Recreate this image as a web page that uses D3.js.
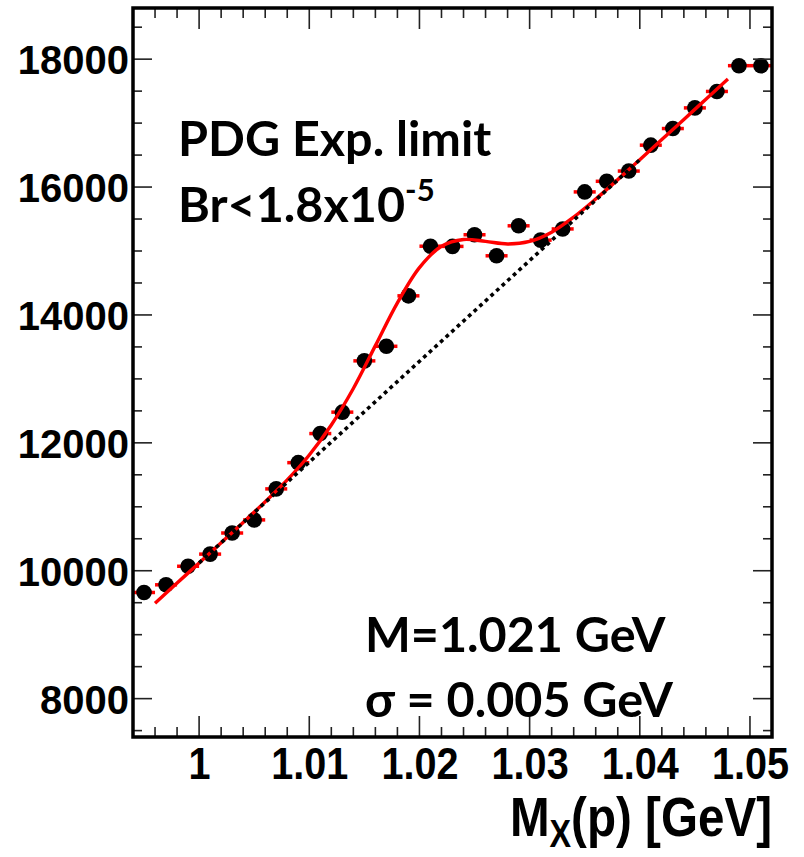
<!DOCTYPE html>
<html>
<head>
<meta charset="utf-8">
<script src="https://cdn.jsdelivr.net/npm/d3@7"></script>
<style>
  html, body { margin: 0; padding: 0; background: #fff; }
  svg { display: block; }
</style>
</head>
<body>
<script>
// ---------------- data ----------------
const binCenters = [0.995, 0.997, 0.999, 1.001, 1.003, 1.005, 1.007, 1.009, 1.011, 1.013,
                    1.015, 1.017, 1.019, 1.021, 1.023, 1.025, 1.027, 1.029, 1.031, 1.033,
                    1.035, 1.037, 1.039, 1.041, 1.043, 1.045, 1.047, 1.049, 1.051];
const binCounts = [9660, 9780, 10070, 10260, 10590, 10795, 11280, 11690, 12145, 12480,
                   13282, 13510, 14299, 15075, 15072, 15254, 14925, 15394, 15170, 15345,
                   15924, 16090, 16250, 16655, 16915, 17238, 17495, 17898, 17898];
const binHalfWidth = 0.001;

// fitted curve (signal + background)
const fitX = [0.996, 0.998, 1.000, 1.002, 1.004, 1.006, 1.008, 1.010, 1.012, 1.014,
              1.016, 1.018, 1.020, 1.022, 1.024, 1.026, 1.028, 1.030, 1.032, 1.034,
              1.036, 1.038, 1.040, 1.042, 1.044, 1.046, 1.048];
const fitY = [9492, 9807, 10122, 10438, 10755, 11080, 11420, 11810, 12280, 12850,
              13520, 14190, 14740, 15075, 15180, 15150, 15110, 15150, 15295, 15530,
              15812, 16116, 16428, 16742, 17058, 17373, 17688];

// background only (dotted line)
const bgX = [1.000, 1.040];
const bgY = [10122, 16427];

const xTickLabels = [1.00, 1.01, 1.02, 1.03, 1.04, 1.05];
const yTickLabels = [8000, 10000, 12000, 14000, 16000, 18000];

const xDomain = [0.994, 1.052];
const yDomain = [7400, 18800];

// ---------------- layout ----------------
const W = 804, H = 857;
const L = 133, R = 772, T = 8, B = 737;

const svg = d3.select("body").append("svg")
  .attr("width", W).attr("height", H)
  .attr("viewBox", `0 0 ${W} ${H}`);

const x = d3.scaleLinear().domain(xDomain).range([L, R]);
const y = d3.scaleLinear().domain(yDomain).range([B, T]);

svg.append("clipPath").attr("id", "plotclip")
  .append("rect").attr("x", L).attr("y", T).attr("width", R - L).attr("height", B - T);

const plot = svg.append("g").attr("clip-path", "url(#plotclip)");

// error bars (horizontal, bin width)
plot.append("g").selectAll("line").data(binCenters).join("line")
  .attr("x1", d => x(d - binHalfWidth))
  .attr("x2", d => x(d + binHalfWidth))
  .attr("y1", (d, i) => y(binCounts[i]))
  .attr("y2", (d, i) => y(binCounts[i]))
  .attr("stroke", "#ff0000").attr("stroke-width", 3.5);

// markers
plot.append("g").selectAll("circle").data(binCenters).join("circle")
  .attr("cx", d => x(d))
  .attr("cy", (d, i) => y(binCounts[i]))
  .attr("r", 7.8)
  .attr("fill", "#000");

// fit curve
const fitLine = d3.line().x(d => x(d[0])).y(d => y(d[1])).curve(d3.curveCatmullRom.alpha(0.5));
plot.append("path")
  .datum(fitX.map((v, i) => [v, fitY[i]]))
  .attr("d", fitLine)
  .attr("fill", "none").attr("stroke", "#ff0000").attr("stroke-width", 3.4);

// background line
const bgLine = d3.line().x(d => x(d[0])).y(d => y(d[1]));
plot.append("path")
  .datum(bgX.map((v, i) => [v, bgY[i]]))
  .attr("d", bgLine)
  .attr("fill", "none").attr("stroke", "#000").attr("stroke-width", 3.6)
  .attr("stroke-dasharray", "3.8,3.8");

// ---------------- axes ----------------
const xMinor = d3.range(0.994, 1.0521, 0.002);
const yMinor = d3.range(7500, 18801, 500);

function tickLines(g, vals, fn) {
  g.selectAll("line.t").data(vals).join("line").attr("class", "t")
    .each(function(d) { const a = fn(d); d3.select(this).attr("x1", a[0]).attr("y1", a[1]).attr("x2", a[2]).attr("y2", a[3]); })
    .attr("stroke", "#222").attr("stroke-width", 1.6);
}
const isMajorX = d => Math.abs(Math.round(d * 100) - d * 100) < 1e-6;
const isMajorY = d => d % 2000 === 0;

const tg = svg.append("g");
tickLines(tg.append("g"), xMinor, d => { const len = isMajorX(d) ? 21 : 10; return [x(d), B, x(d), B - len]; });
tickLines(tg.append("g"), xMinor, d => { const len = isMajorX(d) ? 21 : 10; return [x(d), T, x(d), T + len]; });
tickLines(tg.append("g"), yMinor, d => { const len = isMajorY(d) ? 19 : 9; return [L, y(d), L + len, y(d)]; });
tickLines(tg.append("g"), yMinor, d => { const len = isMajorY(d) ? 19 : 9; return [R, y(d), R - len, y(d)]; });

const labelFont = "'Liberation Sans', Arial, Helvetica, sans-serif";

const xAxis = d3.axisBottom(x).tickValues(xTickLabels).tickSize(0).tickPadding(0)
  .tickFormat(d => d === 1 ? "1" : d3.format(".2f")(d));
const gx = svg.append("g").attr("transform", `translate(0,${B})`).call(xAxis);
gx.select(".domain").remove();
gx.selectAll("text")
  .attr("y", 0).attr("dy", 0)
  .attr("transform", "translate(0,42) scale(0.9,1)")
  .attr("font-family", labelFont)
  .attr("font-weight", "bold").attr("font-size", 44).attr("fill", "#000");

const yAxis = d3.axisLeft(y).tickValues(yTickLabels).tickSize(0).tickPadding(0)
  .tickFormat(d3.format("d"));
const gy = svg.append("g").attr("transform", `translate(${L},0)`).call(yAxis);
gy.select(".domain").remove();
gy.selectAll("text")
  .attr("x", -4).attr("dy", "0.36em")
  .attr("font-family", labelFont)
  .attr("font-weight", "bold").attr("font-size", 40).attr("fill", "#000");

// frame
svg.append("rect").attr("x", L).attr("y", T).attr("width", R - L).attr("height", B - T)
  .attr("fill", "none").attr("stroke", "#000").attr("stroke-width", 3.5);

// axis title
const title = svg.append("text")
  .attr("transform", `translate(${R},836) scale(0.85,1)`)
  .attr("text-anchor", "end")
  .attr("font-family", labelFont)
  .attr("font-weight", "bold").attr("font-size", 56).attr("fill", "#000");
title.append("tspan").text("M");
title.append("tspan").attr("font-size", 38).attr("dy", 11).text("X");
title.append("tspan").attr("dy", -11).text("(p) [GeV]");

// annotations
const annFont = "Lato, 'Open Sans', 'Noto Sans', sans-serif";
const annSize = 48.5;
svg.append("text").attr("x", 178).attr("y", 156)
  .attr("font-family", annFont).attr("font-weight", "bold").attr("font-size", annSize)
  .text("PDG Exp. limit");
const br = svg.append("text").attr("x", 178).attr("y", 222)
  .attr("font-family", annFont).attr("font-weight", "bold").attr("font-size", annSize);
br.append("tspan").text("Br<1.8x10");
br.append("tspan").attr("font-size", 31).attr("dy", -21).text("-5");

svg.append("text").attr("x", 365).attr("y", 652)
  .attr("font-family", annFont).attr("font-weight", "bold").attr("font-size", annSize)
  .text("M=1.021 GeV");
svg.append("text").attr("x", 365).attr("y", 717)
  .attr("font-family", annFont).attr("font-weight", "bold").attr("font-size", annSize)
  .text("σ = 0.005 GeV");
</script>
</body>
</html>
